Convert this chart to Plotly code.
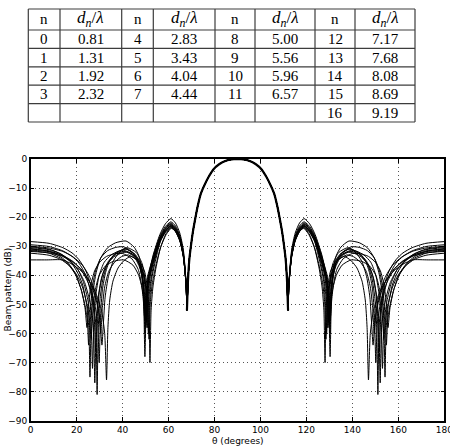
import plotly.graph_objects as go

# ---------------- table data ----------------
TABLE_HEADER = ["n", "<i>d</i><sub><i>n</i></sub>/<i>λ</i>"] * 4
N_COL1 = ["0", "1", "2", "3", ""]
D_COL1 = ["0.81", "1.31", "1.92", "2.32", ""]
N_COL2 = ["4", "5", "6", "7", ""]
D_COL2 = ["2.83", "3.43", "4.04", "4.44", ""]
N_COL3 = ["8", "9", "10", "11", ""]
D_COL3 = ["5.00", "5.56", "5.96", "6.57", ""]
N_COL4 = ["12", "13", "14", "15", "16"]
D_COL4 = ["7.17", "7.68", "8.08", "8.69", "9.19"]

# ---------------- beam pattern data (left half, 0..67.7 deg) ----------------
HALF_THETA = [
    [0, 8, 14, 18, 21, 24, 26, 27.5, 28.4, 28.9, 29.4, 30.2, 31.5, 33.5, 36.5, 41, 45, 47, 48.3, 49.1, 49.7, 50.3, 51.2, 53.3, 56.2, 58.6, 61, 63, 64.9, 66.4, 67.2, 67.7],
    [0, 8, 13, 17, 20, 22.5, 24.3, 25.3, 25.8, 26.3, 27.1, 28.5, 30.5, 33.5, 37, 41.5, 45, 47, 48.4, 49.2, 49.7, 50.3, 51.2, 53.3, 56.2, 58.6, 61, 63, 64.9, 66.4, 67.2, 67.7],
    [0, 8, 13, 17, 20.5, 23, 25, 26.3, 26.9, 27.5, 28.3, 29.8, 32, 35, 38, 41, 45, 47.5, 48.9, 49.7, 50.2, 50.8, 51.7, 53.5, 56.2, 58.6, 61, 63, 64.9, 66.4, 67.2, 67.7],
    [0, 8, 13, 17, 20.5, 23.5, 26, 27.3, 27.9, 28.5, 29.3, 30.8, 33, 36, 39, 42.5, 46.5, 49.5, 50.9, 51.5, 51.9, 52.4, 53.2, 54.5, 56.5, 58.8, 61.2, 63, 64.9, 66.4, 67.2, 67.7],
    [0, 8, 14, 18.5, 22, 25, 27.3, 29.1, 29.8, 30.4, 31.2, 32.6, 34.6, 37.5, 41.5, 45.5, 48, 49.3, 50, 50.5, 51.1, 52, 53.5, 56.2, 58.6, 61, 63, 64.9, 66.4, 67.2, 67.7],
    [0, 7, 14, 18, 22, 25.5, 28.5, 30.8, 32.2, 33.0, 33.6, 34.4, 35.8, 38, 40.5, 43.5, 46.5, 49, 50.4, 51.0, 51.5, 52.1, 53, 54.5, 56.5, 58.8, 61.2, 63.2, 65, 66.4, 67.2, 67.7],
    [0, 8, 13, 16.5, 19.5, 22, 23.6, 24.5, 25.2, 26.2, 27.8, 30, 33, 36.5, 40, 44, 46.8, 48.2, 49.0, 49.5, 50.1, 51, 53.3, 56.2, 58.6, 61, 63, 64.9, 66.4, 67.2, 67.7],
    [0, 8, 14, 18.5, 22.5, 25.5, 28, 29.9, 30.5, 31.0, 31.6, 32.4, 33.8, 36, 38.8, 42, 46, 48.5, 49.8, 50.4, 50.8, 51.4, 52.3, 53.7, 56.3, 58.7, 61, 63, 64.9, 66.4, 67.2, 67.7],
    [0, 8, 13, 17, 20, 22.5, 24.5, 25.7, 26.3, 27, 28, 29.8, 32.5, 36, 40.5, 44.5, 47, 48.5, 49.4, 49.9, 50.5, 51.3, 53.4, 56.2, 58.6, 61, 63, 64.9, 66.4, 67.2, 67.7],
    [0, 8, 14, 18, 21, 24, 26, 27.5, 28.3, 28.9, 29.8, 31.4, 33.8, 37, 41, 45, 47.5, 48.8, 49.5, 50.0, 50.6, 51.5, 53.4, 56.2, 58.6, 61, 63, 64.9, 66.4, 67.2, 67.7],
    [0, 8, 14, 18.5, 22.5, 25.5, 28, 29.6, 30.5, 31.2, 32.2, 34, 36.5, 39.5, 42.5, 46.5, 49, 50.2, 50.8, 51.2, 51.8, 52.6, 54, 56.4, 58.7, 61.1, 63, 64.9, 66.4, 67.2, 67.7],
    [0, 8, 13, 16.5, 19.5, 22, 23.8, 24.7, 25.2, 25.8, 26.7, 28.2, 30.5, 33.5, 37, 40.5, 44.5, 47, 48.4, 49.2, 49.8, 50.4, 51.3, 53.3, 56.2, 58.6, 61, 63, 64.9, 66.4, 67.2, 67.7],
]
HALF_DB = [
    [-28.4, -29.0, -30.5, -32.3, -34.6, -38.5, -43, -50, -58, -81, -58, -48, -41, -36, -33, -30.8, -32.8, -35.5, -40, -47, -68, -50, -41, -34.5, -27.5, -24.2, -22.5, -24.0, -27.0, -32.5, -38.5, -44],
    [-30.2, -31.0, -32.6, -35, -38.5, -43, -50, -58, -75, -56, -46, -39, -34, -30.5, -28.8, -28.2, -30.3, -33.2, -38, -45, -60, -49, -40.5, -33, -26, -22.3, -20.5, -22, -25.5, -31, -37.5, -44],
    [-30.5, -31.2, -32.6, -34.8, -38, -42.5, -49, -57, -72, -56, -47, -40, -35.5, -33, -31.8, -31.5, -33.3, -36.5, -41.5, -48, -58, -48, -41, -34.8, -28, -24.7, -23, -24.4, -27.8, -33, -39, -44.5],
    [-31.0, -31.6, -33, -35.1, -38, -42.5, -50, -58, -77, -57, -48, -41, -36.5, -33.8, -32.5, -32, -34, -38.5, -45, -52, -70, -52, -44, -37.5, -30.5, -25.8, -23.5, -24.8, -28, -33.2, -39, -44.5],
    [-31.3, -31.9, -33.2, -35.3, -38.2, -42.5, -48, -56, -70, -54, -45, -39, -34.5, -32, -31, -32.8, -36.5, -41, -47.5, -56, -47, -40.5, -35, -27.8, -24.5, -22.8, -24.2, -27.5, -33, -39, -44.5],
    [-34.7, -34.7, -34.7, -36.2, -38.5, -42, -46.5, -52, -60, -76, -58, -48.5, -42, -37.5, -35, -33.5, -34.8, -39, -45, -51, -62, -49, -42.5, -36.5, -30.5, -26.2, -23.8, -25.1, -28.3, -33.5, -39, -44.5],
    [-30.8, -31.8, -33.6, -36, -39.5, -45, -51, -58, -50, -43.5, -38.5, -35.5, -33.5, -32.6, -32.5, -34.3, -38, -43, -48.5, -54, -47, -40, -33.8, -27, -23.7, -22, -23.5, -26.8, -32.3, -38.5, -44],
    [-31.8, -32.3, -33.5, -35.5, -38.3, -42, -47, -54, -59, -64, -57, -47.5, -40.5, -35, -32, -30.5, -32.2, -36, -41.5, -48, -58, -48, -41.5, -35.8, -28.3, -24.9, -23.2, -24.6, -27.9, -33.2, -39, -44.5],
    [-32.4, -33.1, -34.5, -36.8, -39.8, -44, -50, -56, -62, -53, -45.5, -40, -36.8, -35.2, -34.7, -36.5, -40, -44.5, -49, -52, -47, -41, -35.5, -28.5, -25.3, -23.6, -25, -28.2, -33.5, -39, -44.5],
    [-29.5, -30.1, -31.6, -33.5, -35.8, -40, -45.5, -53, -66, -55, -46, -39.5, -35.2, -32.7, -31.8, -33.6, -37.5, -42, -48, -57, -47, -40.5, -34.2, -27.2, -24, -22.3, -23.8, -27, -32.5, -38.5, -44],
    [-30.0, -30.6, -31.8, -33.7, -36.5, -40.3, -45.5, -52, -60, -51, -44, -38.6, -35.5, -33.6, -33, -35, -39.5, -45, -51, -60, -48.5, -41.5, -36, -28.5, -24.8, -23, -24.4, -27.6, -33, -39, -44.5],
    [-31.5, -32.4, -34.1, -36.4, -39.8, -45, -51, -56, -64, -54, -45, -38.5, -34, -31.5, -30.4, -30.2, -32.2, -35.5, -40.5, -47, -55, -47.5, -40.5, -33.5, -26.6, -23.2, -21.6, -23, -26.3, -31.8, -38, -44],
]
# shared main lobe (68..90 deg)
MAIN_THETA = [68, 68.5, 69.1, 69.8, 70.6, 71.5, 72.6, 74, 75.6, 77.4, 79.5, 82, 85, 87.5, 90]
MAIN_DB = [-52, -41, -34, -29.5, -25, -21, -16.5, -12, -9, -6.2, -3.6, -1.8, -0.6, -0.15, 0]

X_TICKS = [0, 20, 40, 60, 80, 100, 120, 140, 160, 180]
Y_TICKS = [0, -10, -20, -30, -40, -50, -60, -70, -80, -90]


def mirrored(theta, db):
    t = list(theta) + [180 - v for v in reversed(theta)]
    d = list(db) + list(reversed(db))
    return t, d


W, H = 450, 446
fig = go.Figure()

for th, db in zip(HALF_THETA, HALF_DB):
    t, d = mirrored(list(th) + MAIN_THETA, list(db) + MAIN_DB)
    fig.add_trace(go.Scatter(x=t, y=d, mode="lines",
                             line=dict(color="black", width=1, shape="spline", smoothing=0.6),
                             hoverinfo="skip", showlegend=False))

mt, md = mirrored(MAIN_THETA, MAIN_DB)
fig.add_trace(go.Scatter(x=mt, y=md, mode="lines",
                         line=dict(color="black", width=2.2, shape="spline", smoothing=0.6),
                         hoverinfo="skip", showlegend=False))

# ---------------- table drawn as layout shapes + text ----------------
col_edges = [28.3, 60, 121.7, 153.3, 215, 255, 315, 355, 415]   # px
row_edges = [9, 30, 48.4, 66.8, 85.2, 103.6, 122]               # px
columns = [N_COL1, D_COL1, N_COL2, D_COL2, N_COL3, D_COL3, N_COL4, D_COL4]

shapes = []
line_style = dict(color="#3c3c3c", width=1.2)
for xe in col_edges:
    shapes.append(dict(type="line", xref="paper", yref="paper",
                       x0=xe / W, x1=xe / W, y0=1 - row_edges[0] / H, y1=1 - row_edges[-1] / H,
                       line=line_style, layer="above"))
for ye in row_edges:
    shapes.append(dict(type="line", xref="paper", yref="paper",
                       x0=col_edges[0] / W, x1=col_edges[-1] / W, y0=1 - ye / H, y1=1 - ye / H,
                       line=line_style, layer="above"))

annotations = []
tfont = dict(family="Liberation Serif", size=15, color="black")
hfont_math = dict(family="Liberation Serif", size=17, color="black")
for ci, (hdr, col) in enumerate(zip(TABLE_HEADER, columns)):
    xc = (col_edges[ci] + col_edges[ci + 1]) / 2 / W
    yc = 1 - (row_edges[0] + row_edges[1]) / 2 / H
    annotations.append(dict(text=hdr, x=xc, y=yc, xref="paper", yref="paper",
                            xanchor="center", yanchor="middle", showarrow=False,
                            font=tfont if ci % 2 == 0 else hfont_math))
    for ri, val in enumerate(col):
        if val == "":
            continue
        yc = 1 - (row_edges[ri + 1] + row_edges[ri + 2]) / 2 / H
        annotations.append(dict(text=val, x=xc, y=yc, xref="paper", yref="paper",
                                xanchor="center", yanchor="middle", showarrow=False, font=tfont))

annotations += [
    dict(text="θ (degrees)", x=237.5 / W, y=(H - 441) / H, xref="paper", yref="paper",
         xanchor="center", yanchor="middle", showarrow=False,
         font=dict(family="DejaVu Sans", size=9, color="black")),
    dict(text="Beam pattern (dB)", x=0.5 / W, y=0.35, xref="paper", yref="paper",
         xanchor="left", yanchor="middle", textangle=-90, showarrow=False,
         font=dict(family="DejaVu Sans", size=9, color="black")),
]

axis_common = dict(showline=True, linecolor="black", linewidth=1.5, mirror="allticks",
                   ticks="inside", ticklen=4, tickcolor="black", tickwidth=1,
                   showgrid=True, gridcolor="#555555", griddash="1px,3px", gridwidth=1,
                   zeroline=False, ticklabeloverflow="allow", automargin=False,
                   tickfont=dict(family="DejaVu Sans", size=9, color="black"))

fig.update_layout(
    width=W, height=H,
    margin=dict(l=0, r=0, t=0, b=0),
    paper_bgcolor="white", plot_bgcolor="white",
    showlegend=False,
    xaxis=dict(domain=[30.7 / W, 444.3 / W], range=[0, 180],
               tickvals=X_TICKS, **axis_common),
    yaxis=dict(domain=[(H - 420.7) / H, (H - 159) / H], range=[-90, 0],
               tickvals=Y_TICKS, **axis_common),
    shapes=shapes,
    annotations=annotations,
)

fig.write_html("out.html")
